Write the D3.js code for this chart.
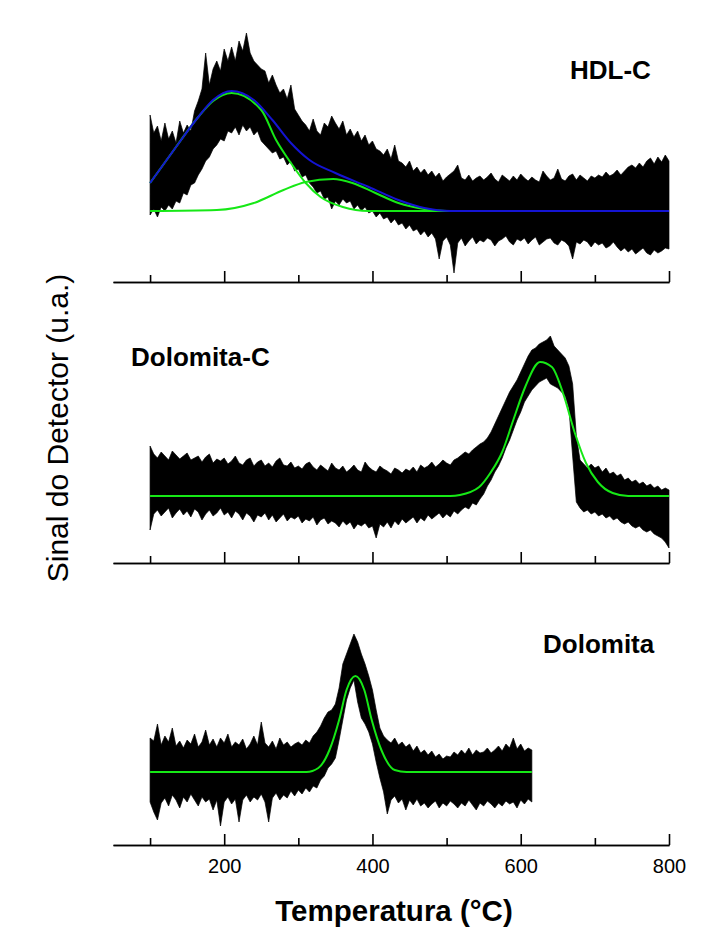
<!DOCTYPE html>
<html>
<head>
<meta charset="utf-8">
<script src="https://cdn.jsdelivr.net/npm/d3@7"></script>
<style>
  body { margin: 0; background: #fff; }
  svg { display: block; }
</style>
</head>
<body>
<div id="chart"></div>
<script>
// temperature grid of the detector signal (°C, every 5 degrees)
const tempsFull = d3.range(100, 801, 5);
const tempsDolo = d3.range(100, 616, 5);

// HDL-C : noise envelope (upper / lower), u.a. above baseline
const hdlHi = [96,78,85,70,88,72,80,68,90,78, 86,80,100,110,122,158,126,142,150,140,
  162,150,164,150,170,160,178,158,150,146, 142,140,128,136,126,118,122,112,126,102,
  96,90,86,80,92,80,76,88,84,95, 88,82,90,76,82,74,80,70,76,66,
  70,62,60,56,62,52,66,50,48,44, 50,40,44,38,42,36,40,34,38,30,
  34,37,40,46,33,31,36,30,33,35, 31,34,38,32,29,36,33,30,35,31,
  37,33,30,34,31,29,40,35,31,33, 42,32,30,35,37,31,36,33,30,35,
  33,36,34,39,35,37,41,36,40,44, 46,43,48,44,50,53,47,54,49,56, 50];
const hdlLo = [-4,2,-6,4,0,6,2,10,8,18, 16,26,28,36,42,50,54,62,66,72,
  70,80,78,84,76,86,80,84,76,80, 70,66,62,58,60,52,54,46,50,40,
  42,34,36,28,24,18,20,12,14,2, 10,6,12,8,10,2,6,0,4,-2,
  0,-6,-2,-8,-6,-12,-8,-14,-12,-18, -14,-20,-18,-24,-20,-26,-22,-28,-48,-30,
  -26,-34,-62,-32,-27,-35,-30,-26,-33,-29, -31,-27,-29,-35,-30,-28,-25,-31,-34,-28,
  -30,-27,-33,-29,-26,-34,-31,-28,-27,-32, -34,-29,-31,-35,-48,-31,-33,-29,-31,-36,
  -31,-34,-32,-37,-35,-31,-36,-40,-37,-41, -38,-43,-40,-37,-42,-44,-39,-42,-40,-37, -38];

// HDL-C fits
const hdlSumT = [100,135,165,185,210,240,265,290,315,350,395,435,470,505,800];
const hdlSumV = [28,64,94,111,120,111,91,68,51,38,24,11,3,0,0];
const hdlG1T = [100,135,165,185,210,250,270,290,310,330,360,395,800];
const hdlG1V = [28,64,94,110,118,101,71,48,28,14,4,0,0];
const hdlG2T = [100,190,240,280,310,347,373,404,435,470,500,800];
const hdlG2V = [0,1,8,21,29,32,28,18,8,2,0,0];

// Dolomita-C : noise envelope
const dolcHi = [50,42,38,44,40,36,45,41,37,40, 43,36,38,40,34,39,42,33,37,35,
  38,32,35,40,33,31,36,38,30,34, 36,30,33,29,35,38,31,30,34,28,
  30,27,32,34,29,26,31,28,25,33, 28,26,30,24,27,31,26,24,34,29,
  26,24,30,27,25,22,28,26,23,27, 25,29,24,31,28,30,34,29,32,36,
  33,31,36,38,41,44,42,46,49,52, 54,58,64,72,80,88,96,104,110,116,
  124,132,140,146,148,152,154,156,160,150, 146,142,138,130,112,60,36,32,28,32,
  28,30,24,28,22,24,20,22,16,18, 14,16,12,14,10,12,8,10,6,8, 6];
const dolcLo = [-34,-18,-14,-20,-16,-12,-22,-17,-13,-19, -15,-21,-13,-16,-24,-18,-14,-20,-17,-12,
  -19,-16,-22,-15,-18,-24,-17,-20,-26,-19, -21,-17,-24,-19,-26,-22,-18,-25,-21,-23,
  -20,-27,-23,-25,-21,-29,-24,-22,-28,-25, -27,-31,-25,-29,-26,-33,-28,-30,-27,-32,
  -30,-42,-28,-31,-26,-32,-25,-29,-23,-27, -24,-21,-27,-22,-25,-19,-23,-20,-17,-22,
  -18,-21,-15,-18,-14,-11,-13,-7,-9,-3, 2,10,16,24,30,38,48,56,66,76,
  84,94,100,106,110,114,116,118,112,110, 108,104,100,88,40,-6,-12,-16,-14,-18,
  -16,-20,-18,-22,-20,-24,-22,-26,-28,-26, -30,-32,-30,-34,-36,-34,-38,-40,-42,-46, -52];
const dolcFitT = [100,505,518,544,559,575,590,606,626,642,657,673,688,704,724,745,800];
const dolcFitV = [0,0,1,9,23,44,76,109,134,129,103,63,33,14,3,0,0];

// Dolomita : noise envelope
const doloHi = [34,31,48,27,36,30,44,26,31,24, 32,28,38,25,30,42,27,33,25,34,
  29,38,25,30,27,33,23,28,36,27, 50,29,25,31,23,34,27,30,25,28,
  30,27,32,29,36,40,46,54,60,62, 68,84,108,118,128,138,130,118,108,96,
  82,62,44,36,32,29,34,27,30,25, 28,21,26,19,22,17,21,15,18,13,
  16,15,20,17,22,18,24,17,22,19, 20,24,19,22,26,21,28,24,34,23, 28,21,24,22];
const doloLo = [-30,-40,-48,-31,-26,-34,-23,-28,-36,-25, -30,-22,-28,-34,-25,-30,-27,-38,-28,-54,
  -30,-25,-32,-27,-50,-28,-23,-30,-25,-28, -22,-30,-50,-26,-21,-28,-23,-26,-19,-24,
  -18,-22,-16,-20,-14,-16,-8,-4,4,8, 14,32,52,72,84,92,70,54,48,40,
  28,10,-6,-20,-42,-28,-24,-31,-27,-38, -28,-33,-27,-34,-31,-36,-32,-29,-36,-31,
  -34,-29,-32,-36,-31,-34,-28,-33,-38,-31, -34,-29,-32,-36,-31,-34,-29,-32,-30,-36, -28,-32,-27,-30];
const doloFitT = [100,311,327,342,355,365,377,389,399,412,430,446,615];
const doloFitV = [0,0,4,22,52,82,96,82,52,22,2,0,0];

const majorTicks = [200, 400, 600, 800];
const minorTicks = [100, 300, 500, 700];

const GREEN = "#16e816", BLUE = "#1414d2";
const FONT = "Arial, 'Liberation Sans', sans-serif";

const width = 707, height = 949;
const svg = d3.select("#chart").append("svg")
    .attr("width", width).attr("height", height);

const x = d3.scaleLinear().domain([50, 800]).range([113, 669]);

const panels = [
    { name: "HDL-C", temps: tempsFull, hi: hdlHi, lo: hdlLo, base: 211, axis: 282,
      fits: [[hdlG1T, hdlG1V, GREEN], [hdlG2T, hdlG2V, GREEN], [hdlSumT, hdlSumV, BLUE]],
      lx: 570, ly: 79 },
    { name: "Dolomita-C", temps: tempsFull, hi: dolcHi, lo: dolcLo, base: 496, axis: 563,
      fits: [[dolcFitT, dolcFitV, GREEN]],
      lx: 131, ly: 366 },
    { name: "Dolomita", temps: tempsDolo, hi: doloHi, lo: doloLo, base: 772, axis: 845,
      fits: [[doloFitT, doloFitV, GREEN]],
      lx: 543, ly: 653 }
];

panels.forEach((p, k) => {
    const y = d3.scaleLinear().domain([0, 100]).range([p.base, p.base - 100]);
    const g = svg.append("g");

    // signal bruit (enveloppe)
    const rows = p.temps.map((t, i) => ({ t: t, hi: p.hi[i], lo: p.lo[i] }));
    g.append("path")
        .datum(rows)
        .attr("d", d3.area().x(d => x(d.t)).y0(d => y(d.lo)).y1(d => y(d.hi)))
        .attr("fill", "#000")
        .attr("stroke", "#000")
        .attr("stroke-width", 0.7)
        .attr("stroke-linejoin", "miter");

    // courbes ajustées
    p.fits.forEach(([ts, vs, col]) => {
        const pts = ts.map((t, i) => [t, vs[i]]);
        g.append("path")
            .datum(pts)
            .attr("d", d3.line().x(d => x(d[0])).y(d => y(d[1])).curve(d3.curveMonotoneX))
            .attr("fill", "none")
            .attr("stroke", col)
            .attr("stroke-width", 2);
    });

    // axe
    const last = k === panels.length - 1;
    const axMajor = g.append("g")
        .attr("transform", `translate(0,${p.axis})`)
        .call(d3.axisBottom(x).tickValues(majorTicks).tickSizeInner(-11).tickSizeOuter(0).tickPadding(14));
    const axMinor = g.append("g")
        .attr("transform", `translate(0,${p.axis})`)
        .call(d3.axisBottom(x).tickValues(minorTicks).tickSizeInner(-7).tickSizeOuter(0).tickFormat(""));
    [axMajor, axMinor].forEach(a => {
        a.select(".domain").attr("stroke", "#000").attr("stroke-width", 1.6);
        a.selectAll(".tick line").attr("stroke", "#000").attr("stroke-width", 1.6);
    });
    axMajor.selectAll(".tick text")
        .attr("font-family", FONT).attr("font-size", 20).attr("fill", "#000")
        .style("display", last ? null : "none");

    g.append("text")
        .attr("x", p.lx).attr("y", p.ly)
        .attr("font-family", FONT).attr("font-size", 26).attr("font-weight", "bold")
        .text(p.name);
});

svg.append("text")
    .attr("x", 394).attr("y", 921)
    .attr("text-anchor", "middle")
    .attr("font-family", FONT).attr("font-size", 29.5).attr("font-weight", "bold")
    .text("Temperatura (°C)");

svg.append("text")
    .attr("transform", "translate(57,428) rotate(-90)")
    .attr("text-anchor", "middle")
    .attr("dy", "0.35em")
    .attr("font-family", FONT).attr("font-size", 30)
    .text("Sinal do Detector (u.a.)");
</script>
</body>
</html>
